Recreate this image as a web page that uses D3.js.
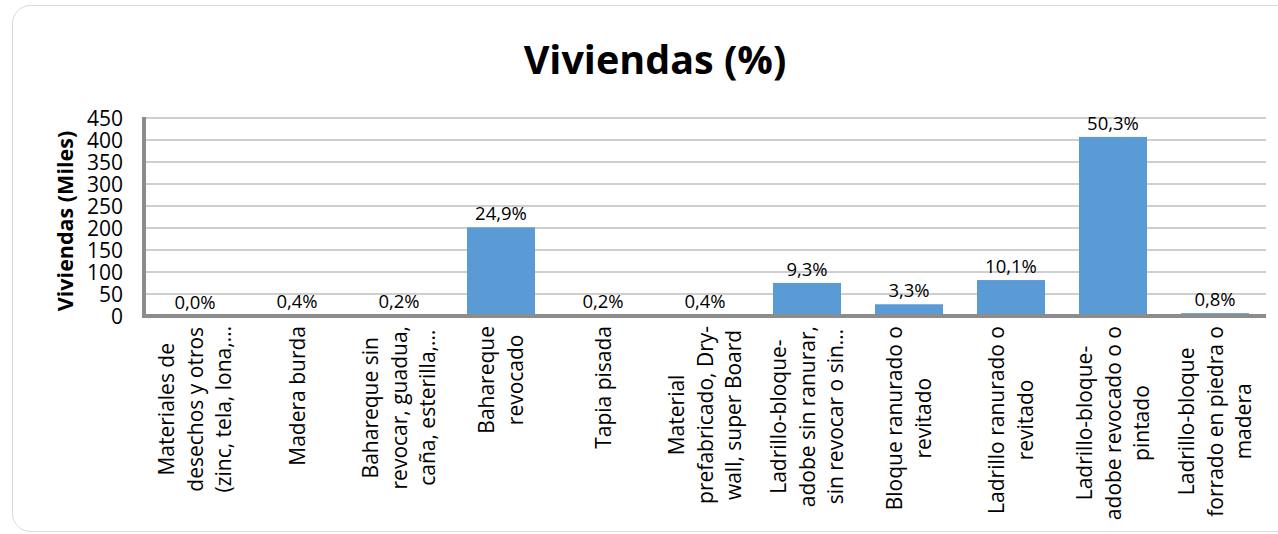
<!DOCTYPE html>
<html lang="es">
  <head>
    <meta charset="UTF-8" />
    <title>Viviendas (%)</title>
    <script src="https://d3js.org/d3.v7.min.js"></script>
    <style>
      body { margin: 0; background: #fff; }
      text { font-family: "Open Sans", sans-serif; fill: #000; }
    </style>
  </head>
  <body>
    <svg width="1278" height="534"></svg>

    <script>
      // categories (already wrapped as in the original chart)
      const categories = [
        ["Materiales de", "desechos y otros", "(zinc, tela, lona,…"],
        ["Madera burda"],
        ["Bahareque sin", "revocar, guadua,", "caña, esterilla,…"],
        ["Bahareque", "revocado"],
        ["Tapia pisada"],
        ["Material", "prefabricado, Dry-", "wall, super Board"],
        ["Ladrillo-bloque-", "adobe sin ranurar,", "sin revocar o sin…"],
        ["Bloque ranurado o", "revitado"],
        ["Ladrillo ranurado o", "revitado"],
        ["Ladrillo-bloque-", "adobe revocado o o", "pintado"],
        ["Ladrillo-bloque", "forrado en piedra o", "madera"]
      ];
      // viviendas (miles)
      const values = [0.3, 3.2, 1.6, 201.5, 1.6, 3.2, 75.2, 26.7, 81.7, 407, 6.5];
      // percentage labels
      const pctLabels = ["0,0%", "0,4%", "0,2%", "24,9%", "0,2%", "0,4%", "9,3%", "3,3%", "10,1%", "50,3%", "0,8%"];
      const yTicks = [0, 50, 100, 150, 200, 250, 300, 350, 400, 450];

      const svg = d3.select("svg");
      const plotLeft = 144, plotRight = 1266, plotTop = 118, plotBottom = 316;

      // chart frame
      svg.append("rect")
        .attr("x", 12.5).attr("y", 5.5)
        .attr("width", 1290).attr("height", 526)
        .attr("rx", 18)
        .attr("fill", "#fff")
        .attr("stroke", "#d9d9d9");

      const x = d3.scaleBand()
        .domain(d3.range(categories.length))
        .range([plotLeft, plotRight])
        .paddingInner(0.333)
        .paddingOuter(0.1665);

      const y = d3.scaleLinear().domain([0, 450]).range([plotBottom, plotTop]);

      // gridlines
      svg.append("g")
        .selectAll("line")
        .data(yTicks.slice(1))
        .join("line")
        .attr("x1", plotLeft).attr("x2", plotRight)
        .attr("y1", d => y(d)).attr("y2", d => y(d))
        .attr("stroke", "#a0a0a0")
        .attr("stroke-width", 1.2);

      // bars
      svg.append("g")
        .selectAll("rect")
        .data(values)
        .join("rect")
        .attr("x", (d, i) => x(i))
        .attr("width", x.bandwidth())
        .attr("y", d => y(d))
        .attr("height", d => plotBottom - y(d))
        .attr("fill", "#5b9bd5");

      // data labels
      svg.append("g")
        .selectAll("text")
        .data(values)
        .join("text")
        .attr("x", (d, i) => x(i) + x.bandwidth() / 2)
        .attr("y", d => y(d) - 7)
        .attr("text-anchor", "middle")
        .style("font-size", "18.5px")
        .text((d, i) => pctLabels[i]);

      // y axis
      const yAxis = svg.append("g")
        .attr("transform", `translate(${plotLeft},0)`)
        .call(d3.axisLeft(y).tickValues(yTicks).tickSize(0).tickPadding(21));
      yAxis.select(".domain").remove();
      yAxis.selectAll("text")
        .style("font-size", "21px")
        .style("font-family", "Open Sans")
        .attr("dy", "0.36em");

      // axis lines (thick gray)
      svg.append("line")
        .attr("x1", plotLeft).attr("x2", plotLeft)
        .attr("y1", plotTop - 1).attr("y2", plotBottom + 2)
        .attr("stroke", "#8c8c8c").attr("stroke-width", 4);
      svg.append("line")
        .attr("x1", plotLeft - 2).attr("x2", plotRight)
        .attr("y1", plotBottom).attr("y2", plotBottom)
        .attr("stroke", "#8c8c8c").attr("stroke-width", 4);

      // category labels, rotated, lines centered inside a block anchored at the axis
      const labelTop = 326, lineStep = 28.6;
      categories.forEach((lines, i) => {
        const cx = x(i) + x.bandwidth() / 2;
        const g = svg.append("g");
        const texts = lines.map((s, j) => {
          const off = (j - (lines.length - 1) / 2) * lineStep;
          return g.append("text")
            .attr("text-anchor", "middle")
            .attr("dy", "0.36em")
            .style("font-size", "21px")
            .datum(cx + off)
            .text(s);
        });
        const maxW = d3.max(texts, t => t.node().getComputedTextLength());
        texts.forEach(t => {
          t.attr("transform", `translate(${t.datum()},${labelTop + maxW / 2}) rotate(-90)`);
        });
      });

      // y axis title
      svg.append("text")
        .attr("transform", `translate(65,${(plotTop + plotBottom) / 2 + 4}) rotate(-90)`)
        .attr("text-anchor", "middle")
        .attr("dy", "0.36em")
        .style("font-size", "21.5px")
        .style("font-weight", "bold")
        .text("Viviendas (Miles)");

      // title
      svg.append("text")
        .attr("x", 655)
        .attr("y", 74)
        .attr("text-anchor", "middle")
        .style("font-size", "39.5px")
        .style("font-weight", "bold")
        .text("Viviendas (%)");
    </script>
  </body>
</html>
